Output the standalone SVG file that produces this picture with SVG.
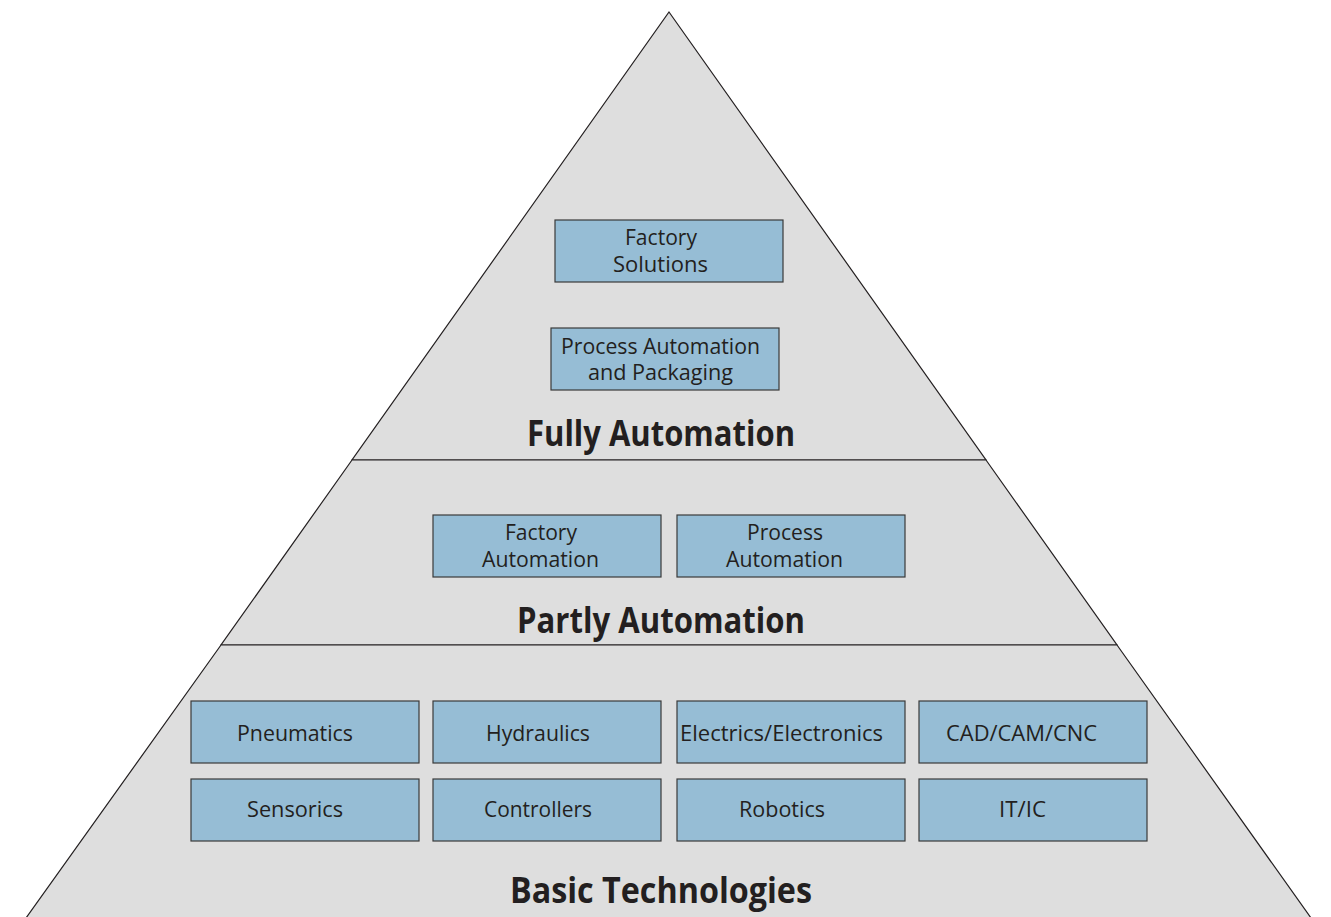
<svg xmlns="http://www.w3.org/2000/svg" width="1331" height="917" viewBox="0 0 1331 917">
<style>
.tier{fill:#dedede;stroke:#231f20;stroke-width:1.2}
.box{fill:#96bdd5;stroke:#3a3a3a;stroke-width:1.2}
.t{font-family:"Open Sans","Noto Sans","Liberation Sans",sans-serif;font-size:21px;fill:#231f20;text-anchor:middle}
.h{font-family:"Liberation Sans Narrow","Open Sans","Liberation Sans",sans-serif;font-weight:bold;font-size:36px;fill:#231f20;text-anchor:middle}
</style>
<rect width="1331" height="917" fill="#ffffff"/>
<g id="tiers">
<polygon class="tier" points="669,12 986,460 352,460"/>
<polygon class="tier" points="352,460 986,460 1117,645 221,645"/>
<polygon class="tier" points="221,645 1117,645 1316,925 21,925"/>
</g>
<g id="connectors"></g>
<g id="factory-solutions"><rect class="box" x="555" y="220" width="228" height="62"/><text class="t" x="661" y="245" textLength="72" lengthAdjust="spacingAndGlyphs">Factory</text><text class="t" x="660.5" y="272" textLength="95" lengthAdjust="spacingAndGlyphs">Solutions</text></g>
<g id="process-automation-packaging"><rect class="box" x="551" y="328" width="228" height="62"/><text class="t" x="660.5" y="354" textLength="199" lengthAdjust="spacingAndGlyphs">Process Automation</text><text class="t" x="660.5" y="380" textLength="145" lengthAdjust="spacingAndGlyphs">and Packaging</text></g>
<g id="fully-automation"><text class="h" x="661" y="446" textLength="268" lengthAdjust="spacingAndGlyphs">Fully Automation</text></g>
<g id="factory-automation"><rect class="box" x="433" y="515" width="228" height="62"/><text class="t" x="541" y="540" textLength="72" lengthAdjust="spacingAndGlyphs">Factory</text><text class="t" x="540.5" y="567" textLength="117" lengthAdjust="spacingAndGlyphs">Automation</text></g>
<g id="process-automation"><rect class="box" x="677" y="515" width="228" height="62"/><text class="t" x="785" y="540" textLength="76" lengthAdjust="spacingAndGlyphs">Process</text><text class="t" x="784.5" y="567" textLength="117" lengthAdjust="spacingAndGlyphs">Automation</text></g>
<g id="partly-automation"><text class="h" x="661" y="633" textLength="288" lengthAdjust="spacingAndGlyphs">Partly Automation</text></g>
<g id="pneumatics"><rect class="box" x="191" y="701" width="228" height="62"/><text class="t" x="295" y="741" textLength="116" lengthAdjust="spacingAndGlyphs">Pneumatics</text></g>
<g id="hydraulics"><rect class="box" x="433" y="701" width="228" height="62"/><text class="t" x="538" y="741" textLength="104" lengthAdjust="spacingAndGlyphs">Hydraulics</text></g>
<g id="electrics"><rect class="box" x="677" y="701" width="228" height="62"/><text class="t" x="781.5" y="741" textLength="203" lengthAdjust="spacingAndGlyphs">Electrics/Electronics</text></g>
<g id="cad"><rect class="box" x="919" y="701" width="228" height="62"/><text class="t" x="1021.5" y="741" textLength="151" lengthAdjust="spacingAndGlyphs">CAD/CAM/CNC</text></g>
<g id="sensorics"><rect class="box" x="191" y="779" width="228" height="62"/><text class="t" x="295" y="817" textLength="96" lengthAdjust="spacingAndGlyphs">Sensorics</text></g>
<g id="controllers"><rect class="box" x="433" y="779" width="228" height="62"/><text class="t" x="538" y="817" textLength="108" lengthAdjust="spacingAndGlyphs">Controllers</text></g>
<g id="robotics"><rect class="box" x="677" y="779" width="228" height="62"/><text class="t" x="782" y="817" textLength="86" lengthAdjust="spacingAndGlyphs">Robotics</text></g>
<g id="itic"><rect class="box" x="919" y="779" width="228" height="62"/><text class="t" x="1022.5" y="817" textLength="47" lengthAdjust="spacingAndGlyphs">IT/IC</text></g>
<g id="basic-technologies"><text class="h" x="661" y="903" textLength="302" lengthAdjust="spacingAndGlyphs">Basic Technologies</text></g>
</svg>
